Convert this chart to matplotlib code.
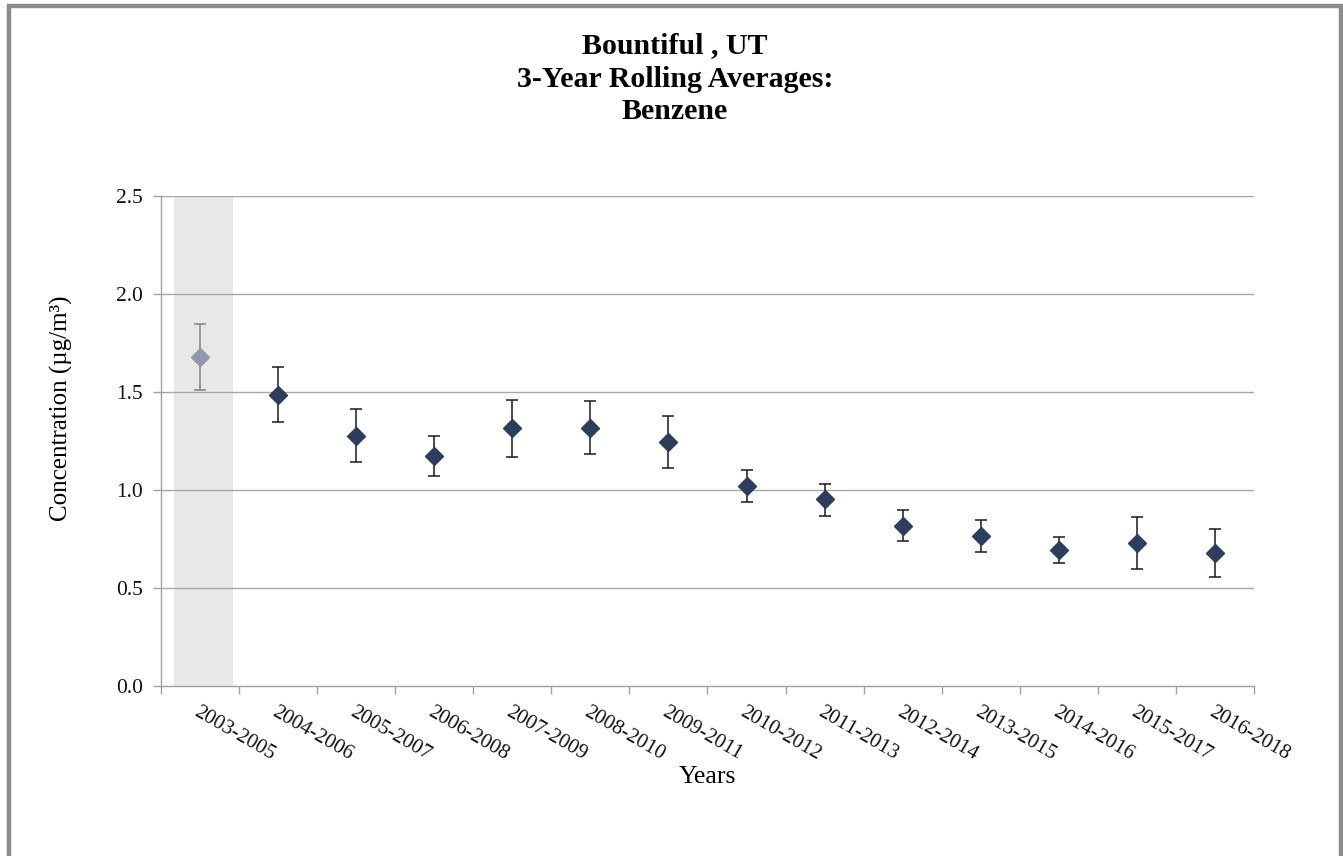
import numpy as np
import matplotlib
matplotlib.use('Agg')
import matplotlib.pyplot as plt
from matplotlib.patches import Rectangle
from matplotlib.transforms import ScaledTranslation

plt.rcParams['font.family'] = ['Liberation Serif', 'DejaVu Serif']

periods = ['2003-2005', '2004-2006', '2005-2007', '2006-2008', '2007-2009',
           '2008-2010', '2009-2011', '2010-2012', '2011-2013', '2012-2014',
           '2013-2015', '2014-2016', '2015-2017', '2016-2018']
means = [1.68, 1.485, 1.277, 1.173, 1.315, 1.316, 1.245, 1.020, 0.952, 0.818,
         0.765, 0.694, 0.731, 0.677]
upper = [1.847, 1.626, 1.412, 1.277, 1.459, 1.454, 1.378, 1.102, 1.032, 0.900,
         0.847, 0.759, 0.864, 0.801]
lower = [1.510, 1.349, 1.144, 1.071, 1.167, 1.184, 1.112, 0.940, 0.869, 0.741,
         0.684, 0.626, 0.595, 0.556]
yticks = [0.0, 0.5, 1.0, 1.5, 2.0, 2.5]
title_lines = ['Bountiful , UT', '3-Year Rolling Averages:', 'Benzene']

x = np.arange(len(periods))
m = np.array(means)
err = np.array([m - np.array(lower), np.array(upper) - m])

fig = plt.figure(figsize=(13.43, 8.56), dpi=100)
ax = fig.add_axes([0.1199, 0.1986, 0.8138, 0.5724])

# shaded first period
ax.axvspan(-0.34, 0.42, ymin=0, ymax=1, color='#e8e8e8', zorder=0, lw=0)

for yv in yticks[1:]:
    ax.axhline(yv, color='#a6a6a6', lw=1.0, zorder=1)

# first point (greyed) and the rest
ax.errorbar(x[:1], m[:1], yerr=err[:, :1], fmt='D', ms=9.5, color='#8e9aab',
            ecolor='#808080', elinewidth=1.1, capsize=4, capthick=1.1, zorder=3)
ax.errorbar(x[1:], m[1:], yerr=err[:, 1:], fmt='D', ms=9.5, color='#2c3e5e',
            ecolor='#1a1a1a', elinewidth=1.1, capsize=4, capthick=1.1, zorder=3)

ax.set_xlim(-0.5, len(periods) - 0.5)
ax.set_ylim(0, 2.5)
ax.set_yticks(yticks)
ax.set_yticklabels(['%.1f' % v for v in yticks], fontsize=15.5, color='#111111')

ax.set_xticks(x)
ax.set_xticks(np.arange(-0.5, len(periods), 1.0), minor=True)
ax.set_xticklabels(periods, fontsize=15, color='#111111', rotation=-30,
                   ha='left', va='top', rotation_mode='anchor')
for lab in ax.get_xticklabels():
    lab.set_transform(lab.get_transform() + ScaledTranslation(0.03, 0, fig.dpi_scale_trans))
ax.tick_params(axis='x', which='major', length=0, pad=12)
ax.tick_params(axis='x', which='minor', length=6, color='#a0a0a0', width=1)
ax.tick_params(axis='y', length=5.8, color='#a0a0a0', width=1, pad=7)

for s in ['top', 'right']:
    ax.spines[s].set_visible(False)
for s in ['left', 'bottom']:
    ax.spines[s].set_color('#a0a0a0')
    ax.spines[s].set_linewidth(1.0)

for txt, yb in zip(title_lines, [0.9381, 0.8984, 0.861]):
    fig.text(0.5026, yb, txt, ha='center', va='baseline', fontsize=21.5,
             fontweight='bold')
fig.text(0.0454, 0.523, 'Concentration (µg/m³)', rotation=90, ha='center',
         va='center', fontsize=18)
fig.text(0.527, 0.0923, 'Years', ha='center', va='center', fontsize=18.5)

fig.patches.append(Rectangle((0.0065, -0.01), 0.992, 1.003, transform=fig.transFigure,
                             fill=False, edgecolor='#8c8c8c', lw=3.2))

fig.savefig('out.png', dpi=100)
